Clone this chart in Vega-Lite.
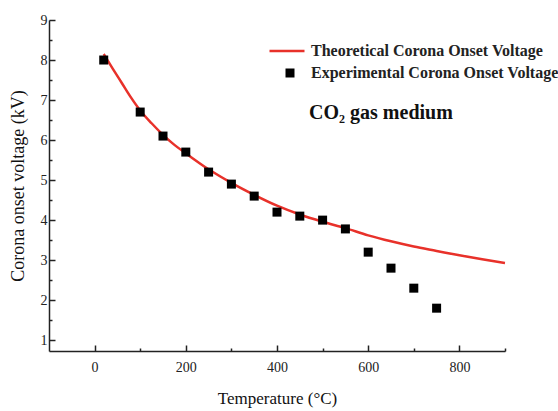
{
  "$schema": "https://vega.github.io/schema/vega-lite/v6.json",
  "width": 456,
  "height": 331,
  "autosize": "none",
  "padding": {"left": 49, "top": 20, "right": 53, "bottom": 60},
  "background": "white",
  "config": {
    "view": {"stroke": null},
    "font": "Liberation Serif",
    "axis": {
      "domainColor": "#222222",
      "domainWidth": 1.5,
      "tickColor": "#222222",
      "tickWidth": 1.5,
      "labelFont": "Liberation Serif",
      "labelFontSize": 14,
      "labelColor": "#222222",
      "titleFont": "Liberation Serif",
      "titleFontWeight": "normal",
      "titleColor": "#111111",
      "grid": false
    },
    "legend": {
      "labelFont": "Liberation Serif",
      "labelFontWeight": "bold",
      "labelFontSize": 16,
      "labelColor": "#222222",
      "padding": 0,
      "labelLimit": 400
    }
  },
  "datasets": {
    "curve": [
      {"T": 20, "V": 8.15, "s": "Theoretical Corona Onset Voltage"},
      {"T": 40, "V": 7.78, "s": "Theoretical Corona Onset Voltage"},
      {"T": 60, "V": 7.42, "s": "Theoretical Corona Onset Voltage"},
      {"T": 80, "V": 7.06, "s": "Theoretical Corona Onset Voltage"},
      {"T": 100, "V": 6.74, "s": "Theoretical Corona Onset Voltage"},
      {"T": 125, "V": 6.42, "s": "Theoretical Corona Onset Voltage"},
      {"T": 150, "V": 6.13, "s": "Theoretical Corona Onset Voltage"},
      {"T": 175, "V": 5.88, "s": "Theoretical Corona Onset Voltage"},
      {"T": 200, "V": 5.67, "s": "Theoretical Corona Onset Voltage"},
      {"T": 250, "V": 5.27, "s": "Theoretical Corona Onset Voltage"},
      {"T": 300, "V": 4.93, "s": "Theoretical Corona Onset Voltage"},
      {"T": 350, "V": 4.63, "s": "Theoretical Corona Onset Voltage"},
      {"T": 400, "V": 4.36, "s": "Theoretical Corona Onset Voltage"},
      {"T": 450, "V": 4.14, "s": "Theoretical Corona Onset Voltage"},
      {"T": 500, "V": 3.96, "s": "Theoretical Corona Onset Voltage"},
      {"T": 550, "V": 3.8, "s": "Theoretical Corona Onset Voltage"},
      {"T": 600, "V": 3.62, "s": "Theoretical Corona Onset Voltage"},
      {"T": 650, "V": 3.47, "s": "Theoretical Corona Onset Voltage"},
      {"T": 700, "V": 3.34, "s": "Theoretical Corona Onset Voltage"},
      {"T": 750, "V": 3.23, "s": "Theoretical Corona Onset Voltage"},
      {"T": 800, "V": 3.12, "s": "Theoretical Corona Onset Voltage"},
      {"T": 850, "V": 3.02, "s": "Theoretical Corona Onset Voltage"},
      {"T": 900, "V": 2.93, "s": "Theoretical Corona Onset Voltage"}
    ],
    "exp": [
      {"T": 20, "V": 8.0, "s": "Experimental Corona Onset Voltage"},
      {"T": 100, "V": 6.7, "s": "Experimental Corona Onset Voltage"},
      {"T": 150, "V": 6.1, "s": "Experimental Corona Onset Voltage"},
      {"T": 200, "V": 5.7, "s": "Experimental Corona Onset Voltage"},
      {"T": 250, "V": 5.2, "s": "Experimental Corona Onset Voltage"},
      {"T": 300, "V": 4.9, "s": "Experimental Corona Onset Voltage"},
      {"T": 350, "V": 4.6, "s": "Experimental Corona Onset Voltage"},
      {"T": 400, "V": 4.2, "s": "Experimental Corona Onset Voltage"},
      {"T": 450, "V": 4.1, "s": "Experimental Corona Onset Voltage"},
      {"T": 500, "V": 4.0, "s": "Experimental Corona Onset Voltage"},
      {"T": 550, "V": 3.78, "s": "Experimental Corona Onset Voltage"},
      {"T": 600, "V": 3.2, "s": "Experimental Corona Onset Voltage"},
      {"T": 650, "V": 2.8, "s": "Experimental Corona Onset Voltage"},
      {"T": 700, "V": 2.3, "s": "Experimental Corona Onset Voltage"},
      {"T": 750, "V": 1.8, "s": "Experimental Corona Onset Voltage"}
    ],
    "note": [
      {"T": 628, "V": 6.68, "label": "CO₂ gas medium"}
    ]
  },
  "encoding": {
    "x": {
      "field": "T",
      "type": "quantitative",
      "scale": {"domain": [-100, 900], "nice": false, "zero": false},
      "axis": {
        "title": "Temperature (°C)",
        "titleFontSize": 17,
        "titlePadding": 16,
        "values": [0, 100, 200, 300, 400, 500, 600, 700, 800, 900],
        "labelExpr": "datum.value % 200 === 0 ? datum.label : ''",
        "tickSize": {"condition": {"test": "datum.value % 200 === 0", "value": -6}, "value": -3},
        "labelPadding": 15
      }
    },
    "y": {
      "field": "V",
      "type": "quantitative",
      "scale": {"domain": [0.73, 9], "nice": false, "zero": false},
      "axis": {
        "title": "Corona onset voltage (kV)",
        "titleFontSize": 18,
        "titlePadding": 13,
        "values": [1, 1.5, 2, 2.5, 3, 3.5, 4, 4.5, 5, 5.5, 6, 6.5, 7, 7.5, 8, 8.5, 9],
        "labelExpr": "datum.value % 1 === 0 ? format(datum.value, 'd') : ''",
        "tickSize": {"condition": {"test": "datum.value % 1 === 0", "value": -6}, "value": -3},
        "labelPadding": 8
      }
    }
  },
  "layer": [
    {
      "data": {"name": "curve"},
      "mark": {"type": "line", "strokeWidth": 2.5, "interpolate": "monotone"},
      "encoding": {
        "color": {
          "field": "s",
          "type": "nominal",
          "scale": {"range": ["#e8312a"]},
          "legend": {
            "title": null,
            "orient": "none",
            "legendX": 219,
            "legendY": 12,
            "symbolType": "stroke",
            "symbolSize": 1225,
            "symbolStrokeWidth": 2.5,
            "labelOffset": 5
          }
        }
      }
    },
    {
      "data": {"name": "exp"},
      "mark": {"type": "point", "shape": "square", "filled": true, "color": "black", "opacity": 1, "size": 81},
      "encoding": {
        "shape": {
          "field": "s",
          "type": "nominal",
          "scale": {"range": ["square"]},
          "legend": {
            "title": null,
            "orient": "none",
            "legendX": 233,
            "legendY": 45,
            "symbolSize": 81,
            "symbolFillColor": "black",
            "symbolStrokeColor": "black",
            "symbolOpacity": 1,
            "labelOffset": 13
          }
        }
      }
    },
    {
      "data": {"name": "note"},
      "mark": {"type": "text", "font": "Liberation Serif", "fontWeight": "bold", "fontSize": 20, "color": "#111111"},
      "encoding": {
        "text": {"field": "label"}
      }
    }
  ]
}
